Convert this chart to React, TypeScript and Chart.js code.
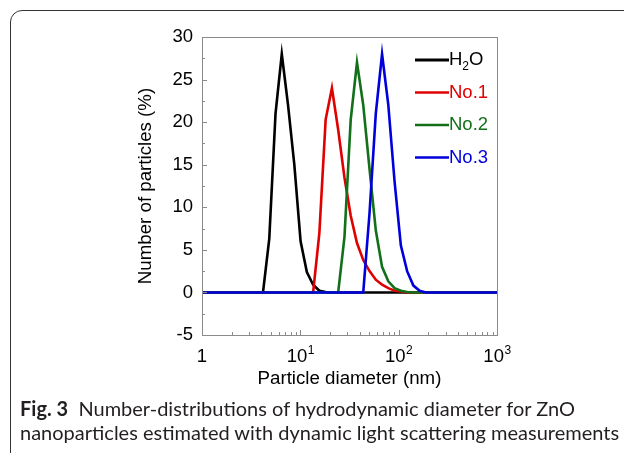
import React, { useEffect, useRef } from 'react';
import { Chart, registerables } from 'chart.js';

Chart.register(...registerables);

// Particle diameter bins (nm), log-spaced
const diameters = [
  0.961, 1.113, 1.289, 1.493, 1.729, 2.002, 2.319, 2.685, 3.11, 3.601,
  4.171, 4.83, 5.593, 6.477, 7.501, 8.687, 10.06, 11.65, 13.49, 15.62,
  18.09, 20.95, 24.26, 28.1, 32.54, 37.68, 43.64, 50.54, 58.53, 67.78,
  78.49, 90.9, 105.3, 121.9, 141.2, 163.5, 189.3, 219.3, 253.9, 294.1,
  340.5, 394.4, 456.7, 528.9, 612.5, 709.3, 821.4, 951.3, 1102,
];

const h2o = [
  0, 0, 0, 0, 0, 0, 0, 0, 0, 0,
  0, 6.3, 21, 28, 22, 15, 6, 2.4, 0.9, 0.2,
  0.05, 0, 0, 0, 0, 0, 0, 0, 0, 0,
  0, 0, 0, 0, 0, 0, 0, 0, 0, 0,
  0, 0, 0, 0, 0, 0, 0, 0, 0,
];
const no1 = [
  0, 0, 0, 0, 0, 0, 0, 0, 0, 0,
  0, 0, 0, 0, 0, 0, 0, 0, 0, 7,
  20.3, 24, 19.1, 13.5, 9, 5.8, 3.8, 2.5, 1.5, 0.9,
  0.5, 0.2, 0.1, 0, 0, 0, 0, 0, 0, 0,
  0, 0, 0, 0, 0, 0, 0, 0, 0,
];
const no2 = [
  0, 0, 0, 0, 0, 0, 0, 0, 0, 0,
  0, 0, 0, 0, 0, 0, 0, 0, 0, 0,
  0, 0, 0, 6.5, 20.3, 27, 22, 14.5, 7.3, 3,
  1.3, 0.5, 0.2, 0.05, 0, 0, 0, 0, 0, 0,
  0, 0, 0, 0, 0, 0, 0, 0, 0,
];
const no3 = [
  0, 0, 0, 0, 0, 0, 0, 0, 0, 0,
  0, 0, 0, 0, 0, 0, 0, 0, 0, 0,
  0, 0, 0, 0, 0, 0, 0, 9.3, 21, 28,
  22, 13, 5.5, 2.5, 0.8, 0.2, 0, 0, 0, 0,
  0, 0, 0, 0, 0, 0, 0, 0, 0,
];

const seriesData = [h2o, no1, no2, no3];
const seriesNames = ['H2O', 'No.1', 'No.2', 'No.3'];
const seriesColors = ['#000000', '#e00000', '#12701a', '#0000dd'];

const xTickValues = [1, 10, 100, 1000];
const xTickBases = ['1', '10', '10', '10'];
const xTickExps = ['', '1', '2', '3'];
const yTickValues = [-5, 0, 5, 10, 15, 20, 25, 30];
const yMinorStep = 2.5;

const FONT = "'Liberation Sans', Arial, sans-serif";

const overlayPlugin = {
  id: 'overlay',
  afterDatasetsDraw(chart: any) {
    const { ctx, chartArea: a, scales } = chart;
    const xs = scales.x;
    const ys = scales.y;
    ctx.save();
    // frame
    ctx.strokeStyle = '#8a8a8a';
    ctx.lineWidth = 1;
    ctx.strokeRect(Math.round(a.left) + 0.5, Math.round(a.top) + 0.5, Math.round(a.right - a.left), Math.round(a.bottom - a.top));
    // y ticks (inward, left)
    ctx.beginPath();
    for (let v = ys.min; v <= ys.max + 1e-9; v += yMinorStep) {
      const py = Math.round(ys.getPixelForValue(v)) + 0.5;
      const major = Math.abs(v / 5 - Math.round(v / 5)) < 1e-6;
      ctx.moveTo(a.left, py);
      ctx.lineTo(a.left + (major ? 5 : 3), py);
    }
    // x ticks (inward, bottom)
    for (let d = 1; d < 1000; d *= 10) {
      for (let k = 1; k <= 10; k++) {
        const v = d * k;
        if (v > 1000) break;
        const px = Math.round(xs.getPixelForValue(v)) + 0.5;
        const major = k === 1 || k === 10;
        ctx.moveTo(px, a.bottom);
        ctx.lineTo(px, a.bottom - (major ? 5 : 3));
      }
    }
    ctx.stroke();

    // x tick labels with superscripts
    ctx.fillStyle = '#000';
    ctx.textBaseline = 'alphabetic';
    ctx.textAlign = 'left';
    xTickValues.forEach((v, i) => {
      const px = xs.getPixelForValue(v);
      ctx.font = `18.5px ${FONT}`;
      const bw = ctx.measureText(xTickBases[i]).width;
      ctx.font = `12px ${FONT}`;
      const ew = xTickExps[i] ? ctx.measureText(xTickExps[i]).width : 0;
      const start = px - (bw + ew) / 2;
      const base = a.bottom + 27;
      ctx.font = `18.5px ${FONT}`;
      ctx.fillText(xTickBases[i], start, base);
      if (xTickExps[i]) {
        ctx.font = `12px ${FONT}`;
        ctx.fillText(xTickExps[i], start + bw + 0.5, base - 8.5);
      }
    });

    // legend
    const lx0 = 415;
    const lx1 = 449;
    seriesNames.forEach((name, i) => {
      const yy = a.top + 23 + i * 32.5;
      ctx.strokeStyle = seriesColors[i];
      ctx.lineWidth = i === 0 ? 3 : 2.5;
      ctx.beginPath();
      ctx.moveTo(lx0, yy);
      ctx.lineTo(lx1, yy);
      ctx.stroke();
      ctx.fillStyle = seriesColors[i];
      ctx.textBaseline = 'middle';
      let tx = lx1;
      const m = name.match(/^([A-Za-z]+)(\d)([A-Za-z]+)$/);
      if (m) {
        ctx.font = `18.5px ${FONT}`;
        ctx.fillText(m[1], tx, yy);
        tx += ctx.measureText(m[1]).width;
        ctx.font = `12px ${FONT}`;
        ctx.fillText(m[2], tx, yy + 7);
        tx += ctx.measureText(m[2]).width;
        ctx.font = `18.5px ${FONT}`;
        ctx.fillText(m[3], tx, yy);
      } else {
        ctx.font = `18.5px ${FONT}`;
        ctx.fillText(name, tx, yy);
      }
    });
    ctx.restore();
  },
};

export default function App() {
  const canvasRef = useRef<HTMLCanvasElement | null>(null);

  useEffect(() => {
    const canvas = canvasRef.current;
    if (!canvas) return;
    const chart = new Chart(canvas, {
      type: 'line',
      data: {
        datasets: seriesData.map((vals, i) => ({
          label: seriesNames[i],
          data: diameters.map((d, j) => ({ x: d, y: vals[j] })),
          borderColor: seriesColors[i],
          backgroundColor: seriesColors[i],
          borderWidth: 2.6,
          pointRadius: 0,
          tension: 0,
          fill: false,
          order: seriesData.length - i,
        })),
      },
      options: {
        responsive: false,
        animation: false,
        events: [],
        layout: { padding: { left: 135, top: 37, right: 127, bottom: 10 } },
        plugins: { legend: { display: false }, tooltip: { enabled: false } },
        scales: {
          x: {
            type: 'logarithmic',
            min: 1,
            max: 1000,
            grid: { display: false, drawTicks: false },
            border: { display: false },
            ticks: { display: false },
            title: {
              display: true,
              text: 'Particle diameter (nm)',
              color: '#000',
              font: { family: FONT, size: 18.7 },
              padding: { top: 0, bottom: 0 },
            },
            afterFit(scale: any) {
              scale.height = 55;
            },
          },
          y: {
            type: 'linear',
            min: -5,
            max: 30,
            afterBuildTicks(scale: any) {
              scale.ticks = yTickValues.map((v) => ({ value: v }));
            },
            grid: { display: false, drawTicks: false },
            border: { display: false },
            ticks: {
              color: '#000',
              font: { family: FONT, size: 18.5 },
              padding: 9,
            },
            title: {
              display: true,
              text: 'Number of particles (%)',
              color: '#000',
              font: { family: FONT, size: 18.7 },
              padding: { top: 0, bottom: 0 },
            },
            afterFit(scale: any) {
              scale.width = 67;
            },
          },
        },
      },
      plugins: [overlayPlugin],
    } as any);
    return () => chart.destroy();
  }, []);

  return (
    <div style={{ position: 'absolute', left: 0, top: 0, width: 624, height: 453, overflow: 'hidden', background: '#fff' }}>
      <div
        style={{
          position: 'absolute',
          left: 10,
          top: 10,
          width: 700,
          height: 520,
          border: '1.5px solid #333',
          borderRadius: 12,
          boxSizing: 'border-box',
        }}
      />
      <canvas ref={canvasRef} width={624} height={400} style={{ position: 'absolute', left: 0, top: 0, width: 624, height: 400, display: 'block' }} />
      <div
        style={{
          position: 'absolute',
          left: 20,
          top: 396,
          fontFamily: 'Lato, sans-serif',
          fontSize: 20,
          lineHeight: '24px',
          color: '#231f20',
          whiteSpace: 'nowrap',
        }}
      >
        <b>Fig. 3</b>&nbsp; Number-distributions of hydrodynamic diameter for ZnO
        <br />
        nanoparticles estimated with dynamic light scattering measurements
      </div>
    </div>
  );
}
